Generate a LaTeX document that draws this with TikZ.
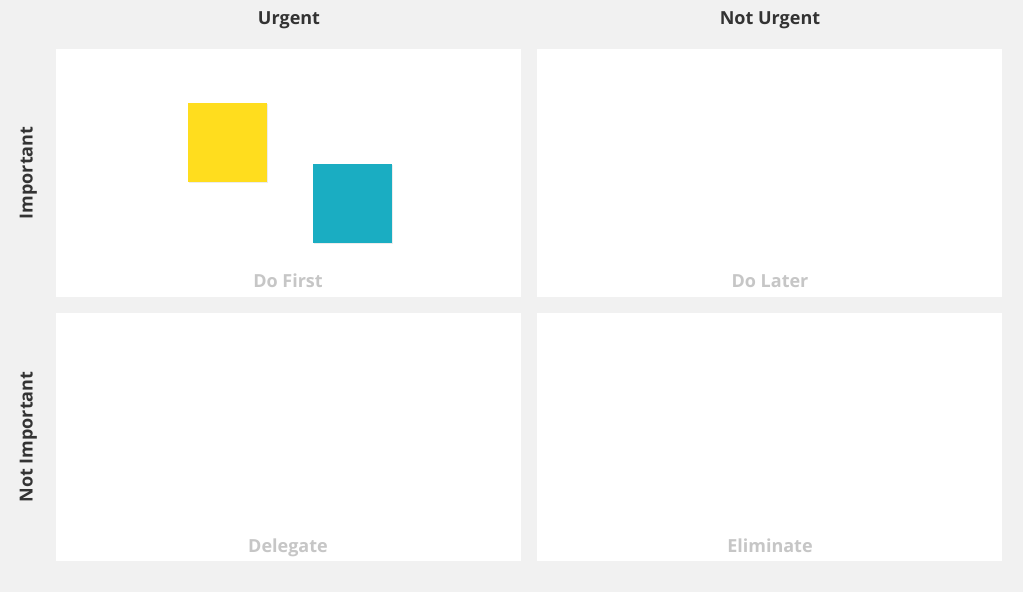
\documentclass[tikz,border=0pt]{standalone}
\usepackage{fontspec}
\setmainfont{Open Sans}
\definecolor{bggray}{HTML}{F1F1F1}
\definecolor{labelgray}{HTML}{C6C6C6}
\definecolor{headgray}{HTML}{333333}
\definecolor{stickyyellow}{HTML}{FFDD1E}
\definecolor{stickyteal}{HTML}{1AADC2}
\tikzset{
  quad/.style={fill=white, draw=none},
  head/.style={font=\fontsize{18}{21}\selectfont\bfseries, text=headgray, text height=13pt, text depth=4pt},
  qlabel/.style={font=\fontsize{18}{21}\selectfont\bfseries, text=labelgray, text height=13pt, text depth=4pt},
  sticky/.style={minimum size=79pt, inner sep=0pt, draw=none}
}
\usetikzlibrary{shadows}
\begin{document}
\begin{tikzpicture}[x=1pt, y=-1pt]
% Background and bounds
\fill[bggray] (0,0) rectangle (1023,592);
\useasboundingbox (0,0) rectangle (1023,592);

% The four quadrants
\node[quad, minimum width=465pt, minimum height=248pt, anchor=north west] (q11) at (56,49) {};
\node[quad, minimum width=465pt, minimum height=248pt, anchor=north west] (q12) at (537,49) {};
\node[quad, minimum width=465pt, minimum height=248pt, anchor=north west] (q21) at (56,313) {};
\node[quad, minimum width=465pt, minimum height=248pt, anchor=north west] (q22) at (537,313) {};

% Column and row headings
\node[head] (urgent) at (289,19.5) {Urgent};
\node[head] (noturgent) at (770,19.5) {Not Urgent};
\node[head, rotate=90] (important) at (28,173) {Important};
\node[head, rotate=90] (notimportant) at (28,437) {Not Important};

% Quadrant labels
\node[qlabel] (dofirst) at (288,283) {Do First};
\node[qlabel] (dolater) at (770,283) {Do Later};
\node[qlabel] (delegate) at (288,547.5) {Delegate};
\node[qlabel] (eliminate) at (770,547.5) {Eliminate};

% Sticky notes
\node[sticky, fill=stickyyellow, drop shadow={shadow xshift=1.5pt, shadow yshift=-1.5pt, opacity=0.15}] (note1) at (227,142) {};
\node[sticky, fill=stickyteal, drop shadow={shadow xshift=1.5pt, shadow yshift=-1.5pt, opacity=0.15}] (note2) at (352,203) {};
\end{tikzpicture}
\end{document}
